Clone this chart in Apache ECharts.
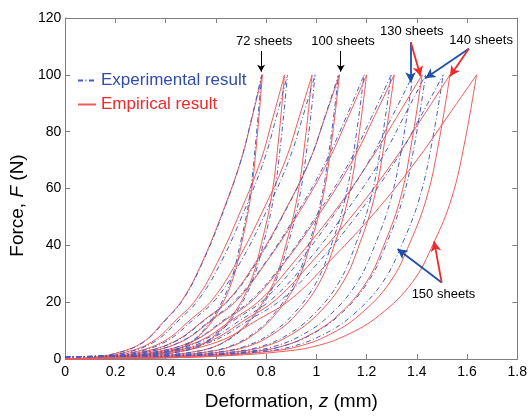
<!DOCTYPE html>
<html>
<head>
<meta charset="utf-8">
<script src="https://cdn.jsdelivr.net/npm/echarts@6/dist/echarts.min.js"></script>
<style>html,body{margin:0;padding:0;background:#fff;}#c{width:530px;height:416px;}</style>
</head>
<body>
<div id="c"></div>
<script>
// ---- data ----
const sheets = [72, 80, 90, 100, 110, 120, 130, 140, 150];

// Force levels (N) along each branch, from origin up to the 100 N peak
const empiricalForceUpper = [0, 0.5, 2, 6, 14, 21, 34, 52, 70, 85, 100];
const empiricalForceLower = [0, 0.4, 1.2, 2.6, 4.4, 8.4, 15.4, 27, 41, 57, 76, 100];
const experimentalForceUpper = [0.8, 1, 2, 6, 14, 21, 34, 52, 70, 85, 100];
const experimentalForceLower = [0.8, 1, 1.5, 2.6, 4.4, 8.4, 15.4, 27, 41, 57, 76, 100];

// Deformation z (mm) for each stack (rows follow `sheets`)
const empiricalUpperZ = [
  [0, 0.100, 0.200, 0.310, 0.400, 0.468, 0.545, 0.628, 0.700, 0.744, 0.785],
  [0, 0.111, 0.223, 0.345, 0.445, 0.521, 0.606, 0.698, 0.779, 0.827, 0.873],
  [0, 0.125, 0.251, 0.388, 0.501, 0.587, 0.682, 0.786, 0.877, 0.931, 0.983],
  [0, 0.139, 0.278, 0.431, 0.557, 0.652, 0.758, 0.874, 0.974, 1.034, 1.092],
  [0, 0.148, 0.298, 0.460, 0.588, 0.687, 0.800, 0.934, 1.049, 1.126, 1.200],
  [0, 0.161, 0.325, 0.502, 0.642, 0.750, 0.874, 1.019, 1.145, 1.229, 1.310],
  [0, 0.171, 0.341, 0.526, 0.668, 0.779, 0.909, 1.073, 1.215, 1.319, 1.421],
  [0, 0.184, 0.368, 0.567, 0.720, 0.840, 0.980, 1.157, 1.310, 1.422, 1.532],
  [0, 0.197, 0.393, 0.606, 0.770, 0.898, 1.048, 1.237, 1.400, 1.520, 1.638]
];
const empiricalLowerZ = [
  [0, 0.196, 0.314, 0.412, 0.475, 0.537, 0.600, 0.663, 0.703, 0.738, 0.762, 0.785],
  [0, 0.218, 0.349, 0.458, 0.528, 0.597, 0.667, 0.737, 0.782, 0.821, 0.848, 0.873],
  [0, 0.246, 0.393, 0.516, 0.595, 0.672, 0.751, 0.830, 0.881, 0.924, 0.954, 0.983],
  [0, 0.273, 0.437, 0.573, 0.661, 0.747, 0.834, 0.922, 0.978, 1.026, 1.060, 1.092],
  [0, 0.300, 0.480, 0.630, 0.726, 0.821, 0.917, 1.013, 1.075, 1.128, 1.165, 1.200],
  [0, 0.328, 0.524, 0.688, 0.793, 0.896, 1.001, 1.106, 1.174, 1.231, 1.271, 1.310],
  [0, 0.355, 0.568, 0.746, 0.860, 0.972, 1.086, 1.199, 1.273, 1.336, 1.379, 1.421],
  [0, 0.383, 0.613, 0.804, 0.927, 1.048, 1.170, 1.293, 1.373, 1.440, 1.487, 1.532],
  [0, 0.410, 0.655, 0.860, 0.991, 1.120, 1.251, 1.382, 1.468, 1.540, 1.590, 1.638]
];
const experimentalUpperZ = [
  [0, 0.102, 0.203, 0.313, 0.403, 0.470, 0.547, 0.630, 0.700, 0.743, 0.782],
  [0, 0.115, 0.230, 0.354, 0.456, 0.532, 0.620, 0.712, 0.792, 0.840, 0.885],
  [0, 0.129, 0.259, 0.398, 0.512, 0.599, 0.697, 0.801, 0.891, 0.945, 0.995],
  [0, 0.141, 0.283, 0.435, 0.560, 0.655, 0.762, 0.876, 0.974, 1.033, 1.088],
  [0, 0.149, 0.298, 0.458, 0.583, 0.681, 0.797, 0.928, 1.041, 1.118, 1.190],
  [0, 0.162, 0.325, 0.500, 0.636, 0.743, 0.870, 1.012, 1.136, 1.219, 1.298],
  [0, 0.173, 0.346, 0.533, 0.679, 0.793, 0.928, 1.080, 1.212, 1.300, 1.385],
  [0, 0.179, 0.359, 0.552, 0.703, 0.822, 0.961, 1.119, 1.256, 1.347, 1.435],
  [0, 0.188, 0.376, 0.579, 0.737, 0.862, 1.008, 1.174, 1.317, 1.413, 1.505]
];
const experimentalLowerZ = [
  [0, 0.196, 0.313, 0.407, 0.469, 0.532, 0.594, 0.657, 0.698, 0.734, 0.758, 0.782],
  [0, 0.221, 0.354, 0.460, 0.531, 0.602, 0.673, 0.743, 0.790, 0.830, 0.858, 0.885],
  [0, 0.249, 0.398, 0.517, 0.597, 0.677, 0.756, 0.836, 0.889, 0.933, 0.965, 0.995],
  [0, 0.272, 0.435, 0.566, 0.653, 0.740, 0.827, 0.914, 0.972, 1.021, 1.055, 1.088],
  [0, 0.298, 0.476, 0.619, 0.714, 0.809, 0.904, 1.000, 1.063, 1.116, 1.154, 1.190],
  [0, 0.325, 0.519, 0.675, 0.779, 0.883, 0.986, 1.090, 1.159, 1.218, 1.259, 1.298],
  [0, 0.346, 0.554, 0.720, 0.831, 0.942, 1.053, 1.163, 1.237, 1.299, 1.343, 1.385],
  [0, 0.359, 0.574, 0.746, 0.861, 0.976, 1.091, 1.205, 1.281, 1.346, 1.392, 1.435],
  [0, 0.376, 0.602, 0.783, 0.903, 1.023, 1.144, 1.264, 1.344, 1.412, 1.460, 1.505]
];

// annotations (data coordinates)
const noteTexts = ['72 sheets', '100 sheets', '130 sheets', '140 sheets', '150 sheets'];
const notePos = [[0.792, 111.8], [1.106, 111.8], [1.380, 115.3], [1.656, 112.2], [1.506, 22.9]];
const arrowFrom = [[0.780, 108.4], [1.097, 108.4], [1.375, 111.5], [1.376, 111.5], [1.607, 109.2], [1.607, 109.2], [1.499, 26.9], [1.499, 26.9]];
const arrowTo   = [[0.780, 101.1], [1.097, 101.1], [1.375, 97.4], [1.415, 99.5], [1.434, 98.8], [1.532, 99.5], [1.323, 38.7], [1.469, 41.4]];
const arrowKind = ['k', 'k', 'b', 'r', 'b', 'r', 'b', 'r'];

// ---- chart ----
const FONT = 'Liberation Sans, Arial, sans-serif';
const RED = '#f05a5a';
const BLUE = '#4a5cc0';
const arrowColor = { k: '#000000', b: '#1f4fa8', r: '#ee2a2a' };

function zip(zs, fs) { return zs.map((z, i) => [z, fs[i]]); }

const series = [];
sheets.forEach((n, i) => {
  [[experimentalUpperZ[i], experimentalForceUpper], [experimentalLowerZ[i], experimentalForceLower]].forEach(([zs, fs]) => {
    series.push({
      name: 'Experimental result', type: 'line', data: zip(zs, fs), symbol: 'none', smooth: 0.4,
      lineStyle: { color: BLUE, width: 1, type: [5, 2.5, 1, 2.5] }, itemStyle: { color: BLUE },
      silent: true, z: 3
    });
  });
  [[empiricalUpperZ[i], empiricalForceUpper], [empiricalLowerZ[i], empiricalForceLower]].forEach(([zs, fs]) => {
    series.push({
      name: 'Empirical result', type: 'line', data: zip(zs, fs), symbol: 'none', smooth: 0.4,
      lineStyle: { color: RED, width: 1 }, itemStyle: { color: RED },
      silent: true, z: 2
    });
  });
});

series.push({
  name: 'notes', type: 'line', data: [], silent: true,
  markPoint: {
    symbol: 'circle', symbolSize: 0, silent: true, animation: false,
    label: { show: true, position: 'inside', formatter: '{b}', color: '#000', fontSize: 13, fontFamily: FONT },
    data: notePos.map((c, i) => ({ name: noteTexts[i], coord: c }))
  },
  markLine: {
    silent: true, animation: false, symbol: ['none', 'arrow'], precision: 4,
    label: { show: false },
    data: arrowFrom.map((f, i) => {
      const k = arrowKind[i];
      return [
        { coord: f, symbol: 'none', lineStyle: { color: arrowColor[k], width: k === 'k' ? 1 : 1.8, type: 'solid' } },
        { coord: arrowTo[i], symbol: 'arrow', symbolSize: k === 'k' ? [6, 7] : [8, 10] }
      ];
    })
  }
});

const axisGray = '#7f7f7f';
const chart = echarts.init(document.getElementById('c'), null, { renderer: 'canvas' });
chart.setOption({
  animation: false,
  backgroundColor: '#ffffff',
  grid: { left: 61, right: 10, top: 18, bottom: 52, containLabel: false },
  legend: {
    orient: 'vertical', left: 72, top: 67, itemWidth: 18, itemHeight: 10, itemGap: 7, itemStyle: { opacity: 0 },
    textStyle: { fontSize: 17, fontFamily: FONT },
    data: [
      { name: 'Experimental result', textStyle: { color: '#2f4ea8' } },
      { name: 'Empirical result', textStyle: { color: '#ee2a2a' } }
    ],
    selectedMode: false
  },
  xAxis: [
    {
      type: 'value', min: 0, max: 1.8, interval: 0.2,
      axisLine: { onZero: false, lineStyle: { color: axisGray, width: 1 } },
      axisTick: { inside: true, length: 5, lineStyle: { color: axisGray } },
      axisLabel: { color: '#000', fontSize: 14, margin: 6, fontFamily: FONT },
      splitLine: { show: false },
      name: '{a|Deformation, }{i|z}{a| (mm)}', nameLocation: 'middle', nameGap: 33,
      nameTextStyle: { rich: { a: { fontSize: 19, fontFamily: FONT, color: '#000' }, i: { fontSize: 19, fontFamily: FONT, fontStyle: 'italic', color: '#000' } } }
    },
    {
      type: 'value', position: 'top', min: 0, max: 1.8, interval: 0.2,
      axisLine: { onZero: false, lineStyle: { color: axisGray, width: 1 } },
      axisTick: { inside: true, length: 5, lineStyle: { color: axisGray } },
      axisLabel: { show: false }, splitLine: { show: false }
    }
  ],
  yAxis: [
    {
      type: 'value', min: 0, max: 120, interval: 20,
      axisLine: { show: true, onZero: false, lineStyle: { color: axisGray, width: 1 } },
      axisTick: { show: true, inside: true, length: 5, lineStyle: { color: axisGray } },
      axisLabel: { color: '#000', fontSize: 14, margin: 4, fontFamily: FONT },
      splitLine: { show: false },
      name: '{a|Force, }{i|F}{a| (N)}', nameLocation: 'middle', nameGap: 34,
      nameTextStyle: { padding: [0, 34, 0, 0], rich: { a: { fontSize: 19, fontFamily: FONT, color: '#000' }, i: { fontSize: 19, fontFamily: FONT, fontStyle: 'italic', color: '#000' } } }
    },
    {
      type: 'value', position: 'right', min: 0, max: 120, interval: 20,
      axisLine: { show: true, onZero: false, lineStyle: { color: axisGray, width: 1 } },
      axisTick: { show: true, inside: true, length: 5, lineStyle: { color: axisGray } },
      axisLabel: { show: false }, splitLine: { show: false }
    }
  ],
  series: series
});
</script>
</body>
</html>
